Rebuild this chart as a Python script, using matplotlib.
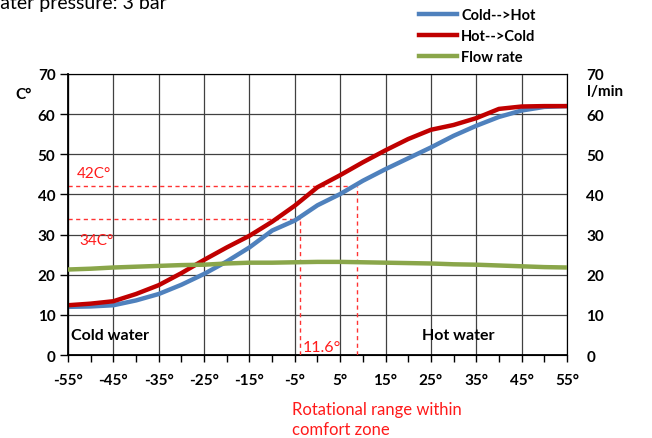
import numpy as np
from matplotlib import pyplot as plt

plt.rcParams['font.family'] = ['Lato', 'DejaVu Sans']

# lever angle in degrees
angle = [-55, -50, -45, -40, -35, -30, -25, -20, -15, -10, -5, 0, 5, 10, 15, 20, 25, 30, 35, 40, 45, 50, 55]
cold_to_hot = [12.0, 12.1, 12.4, 13.6, 15.2, 17.5, 20.2, 23.3, 26.8, 31.0, 33.5, 37.3, 40.1, 43.4, 46.3, 49.0, 51.7, 54.6, 57.1, 59.3, 60.9, 61.8, 62.0]
hot_to_cold = [12.4, 12.8, 13.4, 15.2, 17.4, 20.4, 23.7, 26.8, 29.7, 33.2, 37.2, 41.8, 44.8, 48.0, 51.0, 53.8, 56.1, 57.3, 59.0, 61.3, 61.9, 62.0, 62.0]
flow_rate = [21.3, 21.5, 21.8, 22.0, 22.2, 22.4, 22.5, 22.8, 23.0, 23.0, 23.1, 23.2, 23.2, 23.1, 23.0, 22.9, 22.8, 22.6, 22.5, 22.3, 22.1, 21.9, 21.8]

comfort_low = -3.9
comfort_high = 8.8
temp_low = 34
temp_high = 42

x_ticks = list(range(-55, 56, 10))
x_labels = ['{}°'.format(t) for t in x_ticks]

fig = plt.figure(figsize=(6.52, 4.39), dpi=100)
ax = fig.add_axes([0.1043, 0.189, 0.7653, 0.6402])
ax2 = ax.twinx()

ax.plot(angle, cold_to_hot, color='#4f81bd', lw=3.2, label='Cold-->Hot', zorder=4, solid_joinstyle='round')
ax.plot(angle, hot_to_cold, color='#c00000', lw=3.2, label='Hot-->Cold', zorder=4, solid_joinstyle='round')
ax2.plot(angle, flow_rate, color='#8aa64a', lw=3.2, label='Flow rate', zorder=4, solid_joinstyle='round')

# comfort zone markers
dash = dict(color='#ff3333', lw=1.0, ls=(0, (3, 2.5)), zorder=3)
ax.plot([-55, comfort_high], [temp_high, temp_high], **dash)
ax.plot([-55, comfort_low], [temp_low, temp_low], **dash)
ax.plot([comfort_low, comfort_low], [0, temp_low], **dash)
ax.plot([comfort_high, comfort_high], [0, temp_high], **dash)

red = '#ff1a1a'
ax.text(-53, 44.3, '42C°', color=red, fontsize=11)
ax.text(-52.5, 27.6, '34C°', color=red, fontsize=11)
ax.text(-3.2, 0.9, '11.6°', color=red, fontsize=11.5)
ax.text(-54.3, 4.0, 'Cold water', fontsize=11.5, fontweight='bold')
ax.text(23.0, 4.0, 'Hot water', fontsize=11.5, fontweight='bold')
fig.text(292/652, 1-435/439, 'Rotational range within\ncomfort zone', color=red,
         fontsize=12, linespacing=1.3, va='baseline')
fig.text(-0.03, 1-9/439, 'Water pressure: 3 bar', fontsize=14, va='baseline')

ax.set_xlim(-55, 55)
ax.set_ylim(0, 70)
ax2.set_ylim(0, 70)
ax.set_xticks(x_ticks)
ax.set_xticklabels(x_labels, fontsize=11, fontweight='bold')
ax.set_xticks(range(-50, 51, 10), minor=True)
ax.set_yticks(range(0, 71, 10))
ax.set_yticklabels([str(v) for v in range(0, 71, 10)], fontsize=11, fontweight='bold')
ax2.set_yticks(range(0, 71, 10))
ax2.set_yticklabels([str(v) for v in range(0, 71, 10)], fontsize=11, fontweight='bold')

ax.tick_params(axis='x', which='both', direction='out', length=5, width=1, pad=8)
ax.tick_params(axis='y', direction='out', length=6, width=1, pad=3)
ax2.tick_params(axis='y', length=0, pad=14)
ax.grid(True, which='major', color='#404040', lw=0.9)
ax.set_axisbelow(True)
for sp in ax.spines.values():
    sp.set_color('#404040')
ax.spines['left'].set_color('black')
ax.spines['left'].set_linewidth(1.3)
ax.spines['bottom'].set_color('black')
ax.spines['bottom'].set_linewidth(1.3)

ax.text(-0.072, 0.915, 'C°', transform=ax.transAxes, fontsize=11, fontweight='bold', ha='right')
ax2.text(1.04, 0.925, 'l/min', transform=ax2.transAxes, fontsize=11, fontweight='bold')

handles = ax.get_lines()[:2] + ax2.get_lines()[:1]
fig.legend(handles, [h.get_label() for h in handles], loc='upper left',
           bbox_to_anchor=(410/652, 1.0), frameon=False,
           prop={'weight': 'bold', 'size': 10.5}, handlelength=2.6, handletextpad=0.3,
           labelspacing=0.5, borderaxespad=0.2)

fig.savefig('out.png', dpi=100)
